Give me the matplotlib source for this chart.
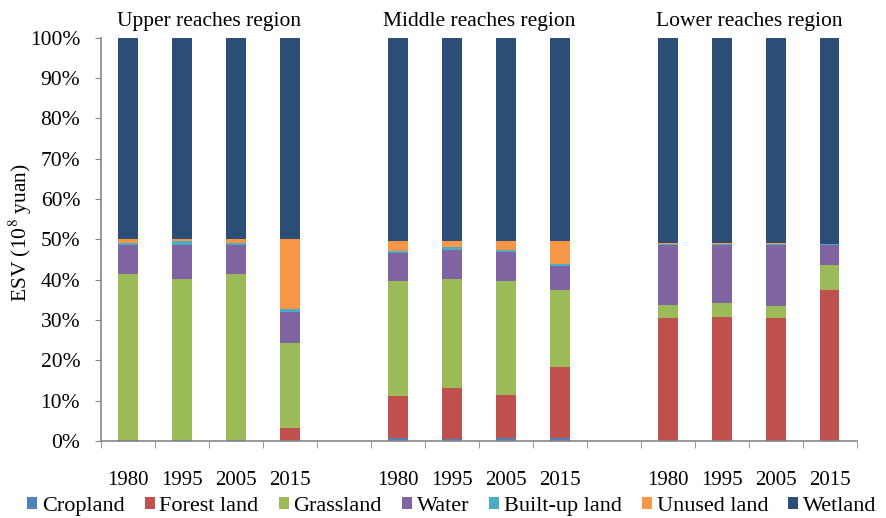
import numpy as np
import matplotlib.pyplot as plt
from matplotlib.patches import Patch

plt.rcParams['font.family'] = ['Liberation Serif', 'DejaVu Serif']
plt.rcParams['mathtext.fontset'] = 'stix'

regions = ['Upper reaches region', 'Middle reaches region', 'Lower reaches region']
years = ['1980', '1995', '2005', '2015']
land_types = ['Cropland', 'Forest land', 'Grassland', 'Water', 'Built-up land', 'Unused land', 'Wetland']

# share of ESV (%) per land type, bars ordered upper(4), middle(4), lower(4)
cropland = [0.1, 0.1, 0.1, 0.1, 0.7, 0.5, 0.7, 0.7, 0.0, 0.0, 0.0, 0.0]
forest = [0.0, 0.0, 0.0, 3.2, 10.5, 12.5, 10.7, 17.5, 30.5, 30.8, 30.5, 37.5]
grassland = [41.2, 40.0, 41.2, 20.9, 28.4, 27.2, 28.3, 19.1, 3.1, 3.5, 3.0, 6.1]
water = [7.3, 8.5, 7.3, 7.7, 7.0, 7.2, 7.1, 6.1, 14.9, 14.4, 15.0, 5.1]
builtup = [0.4, 0.9, 0.4, 0.9, 0.5, 0.6, 0.5, 0.5, 0.3, 0.2, 0.3, 0.1]
unused = [1.0, 0.5, 1.0, 17.2, 2.4, 1.5, 2.2, 5.6, 0.2, 0.1, 0.2, 0.1]
wetland = [50.0, 50.0, 50.0, 50.0, 50.5, 50.5, 50.5, 50.5, 51.0, 51.0, 51.0, 51.1]

series = [cropland, forest, grassland, water, builtup, unused, wetland]
colors = ['#4F81BD', '#C0504D', '#9BBB59', '#8064A2', '#4BACC6', '#F79646', '#2C4D75']

# bar slots: one empty slot between regions
xpos = np.array([0, 1, 2, 3, 5, 6, 7, 8, 10, 11, 12, 13])

fig = plt.figure(figsize=(8.86, 5.18), dpi=100)
ax = fig.add_axes([0.114, 0.149, 0.853, 0.778])

bottom = np.zeros(len(xpos))
for vals, col in zip(series, colors):
    vals = np.array(vals)
    ax.bar(xpos, vals, width=0.36, bottom=bottom, color=col, edgecolor='none')
    bottom += vals

ax.set_xlim(-0.5, 13.5)
ax.set_ylim(0, 100)
ax.set_yticks(np.arange(0, 101, 10))
ax.set_yticklabels([f'{v}%' for v in range(0, 101, 10)], fontsize=15.5)
ax.set_xticks(xpos)
ax.set_xticklabels(years * 3, fontsize=15)
ax.set_xticks(np.arange(-0.5, 14, 1), minor=True)
ax.tick_params(axis='x', which='major', length=0, pad=22)
ax.tick_params(axis='x', which='minor', length=5, direction='out', color='#868686')
ax.tick_params(axis='y', length=4, direction='out', color='#868686', pad=11)

for s in ['top', 'right']:
    ax.spines[s].set_visible(False)
for s in ['left', 'bottom']:
    ax.spines[s].set_color('#868686')
    ax.spines[s].set_linewidth(1.2)

ax.set_ylabel('ESV (10$^8$ yuan)', fontsize=15.5)
ax.yaxis.set_label_coords(-0.088, 0.517)

centers = [1.5, 6.5, 11.5]
for c, name in zip(centers, regions):
    ax.text(c, 101.8, name, ha='center', va='bottom', fontsize=15.5)

handles = [Patch(facecolor=c, edgecolor='none') for c in colors]
fig.legend(handles, land_types, loc='lower center', bbox_to_anchor=(0.51, -0.035),
           ncol=7, frameon=False, fontsize=16, handlelength=0.45, handleheight=0.45,
           handletextpad=0.22, columnspacing=0.9)

fig.savefig('out.png', dpi=100)
